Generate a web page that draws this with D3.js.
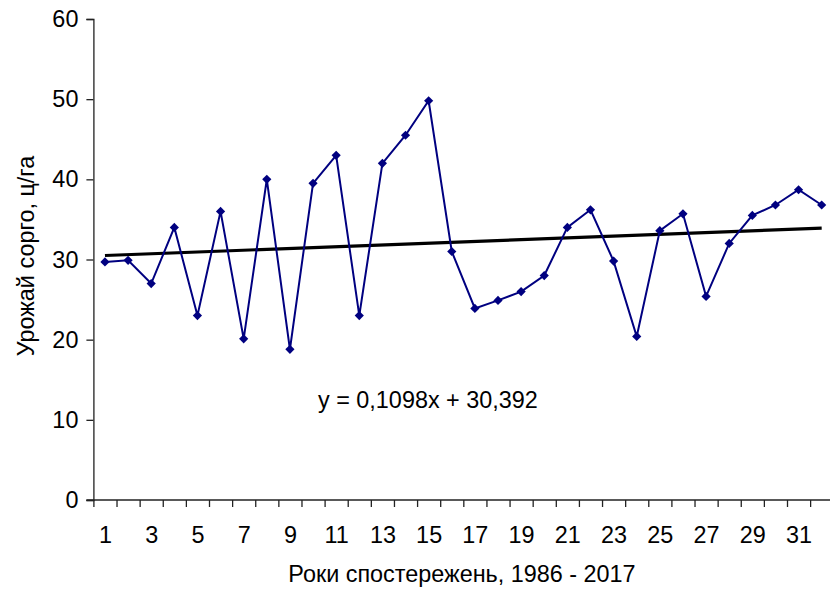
<!DOCTYPE html>
<html lang="uk">
<head>
<meta charset="utf-8">
<script src="https://d3js.org/d3.v7.min.js"></script>
<style>
  body { margin: 0; background: #fff; }
  svg { display: block; font-family: "Liberation Sans", Arial, sans-serif; }
</style>
</head>
<body>
<svg width="830" height="592"></svg>
<script>
// years of observation 1 .. 32 (1986 - 2017)
var years = d3.range(1, 33);
// sorghum yield, c/ha
var yieldVals = [29.7, 29.9, 27.0, 34.0, 23.0, 36.0, 20.1, 40.0, 18.8, 39.5,
                 43.0, 23.0, 42.0, 45.5, 49.8, 31.0, 23.9, 24.9, 26.0, 28.0,
                 34.0, 36.2, 29.8, 20.4, 33.6, 35.7, 25.4, 32.0, 35.5, 36.8,
                 38.7, 36.8];
var yTicks = [0, 10, 20, 30, 40, 50, 60];
var xLabels = [1, 3, 5, 7, 9, 11, 13, 15, 17, 19, 21, 23, 25, 27, 29, 31];
// linear trend from the chart
var trendSlope = 0.1098;
var trendIntercept = 30.392;
var trendText = "y = 0,1098x + 30,392";

var svg = d3.select("svg");
svg.append("rect").attr("width", 830).attr("height", 592).attr("fill", "#fff");

var plotLeft = 93.4, plotTop = 19, plotBottom = 500;
var step = 23.12;
var fs = 23.4;

var x = d3.scaleLinear().domain([0.5, 32.5]).range([plotLeft, plotLeft + 32 * step]);
var y = d3.scaleLinear().domain([0, 60]).range([plotBottom, plotTop]);

// y axis
var yAxis = svg.append("g")
    .attr("transform", "translate(" + plotLeft + ",0)")
    .call(d3.axisLeft(y).tickValues(yTicks).tickSize(7).tickPadding(8));
yAxis.selectAll("text").attr("font-size", fs).attr("fill", "#000");

// x axis: ticks on category borders
var borders = d3.range(0.5, 33, 1);
var xAxis = svg.append("g")
    .attr("transform", "translate(0," + plotBottom + ")")
    .call(d3.axisBottom(x).tickValues(borders).tickSize(7).tickFormat(""));
xAxis.select(".domain").attr("d", "M" + (plotLeft - 7) + ",0H830");

var xLab = svg.append("g")
    .attr("transform", "translate(0," + plotBottom + ")")
    .call(d3.axisBottom(x).tickValues(xLabels).tickSize(0).tickPadding(26));
xLab.select(".domain").remove();
xLab.selectAll("text").attr("font-size", fs).attr("fill", "#000");

svg.selectAll(".domain, .tick line").attr("stroke", "#222").attr("stroke-width", 1.3);

// trend line
svg.append("line")
    .attr("x1", x(1)).attr("y1", y(trendSlope * 1 + trendIntercept))
    .attr("x2", x(32)).attr("y2", y(trendSlope * 32 + trendIntercept))
    .attr("stroke", "#000").attr("stroke-width", 3.2);

// data series
var line = d3.line().x(function (d, i) { return x(years[i]); }).y(function (d) { return y(d); });
svg.append("path")
    .datum(yieldVals)
    .attr("d", line)
    .attr("fill", "none")
    .attr("stroke", "#000080")
    .attr("stroke-width", 2);

svg.selectAll(".pt")
    .data(yieldVals)
    .enter()
    .append("path")
    .attr("class", "pt")
    .attr("transform", function (d, i) { return "translate(" + x(years[i]) + "," + y(d) + ")"; })
    .attr("d", "M0,-4.6L4.6,0L0,4.6L-4.6,0Z")
    .attr("fill", "#000080");

// equation
svg.append("text")
    .attr("x", 318).attr("y", 408)
    .attr("font-size", fs)
    .text(trendText);

// axis titles
svg.append("text")
    .attr("x", 462).attr("y", 582)
    .attr("text-anchor", "middle")
    .attr("font-size", fs)
    .text("Роки спостережень, 1986 - 2017");

svg.append("text")
    .attr("transform", "translate(34,256) rotate(-90)")
    .attr("text-anchor", "middle")
    .attr("font-size", fs)
    .text("Урожай сорго, ц/га");
</script>
</body>
</html>
